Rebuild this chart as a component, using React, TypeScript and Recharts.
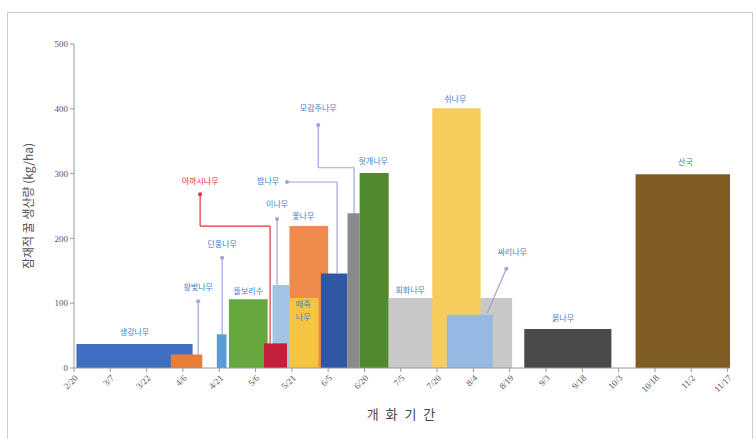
import React from 'react';
import {
  Area,
  ComposedChart,
  ReferenceDot,
  ReferenceLine,
  XAxis,
  YAxis,
} from 'recharts';

// x axis: days counted from 2/20, one tick every 15 days
const dayTicks = [0, 15, 30, 45, 60, 75, 90, 105, 120, 135, 150, 165, 180, 195, 210, 225, 240, 255, 270];
const dateLabels = ['2/20', '3/7', '3/22', '4/6', '4/21', '5/6', '5/21', '6/5', '6/20', '7/5', '7/20', '8/4', '8/19', '9/3', '9/18', '10/3', '10/18', '11/2', '11/17'];
const honeyTicks = [0, 100, 200, 300, 400, 500];

// flowering plants (draw order = back to front)
const plants = ['생강나무', '왕벚나무', '단풍나무', '뜰보리수', '이나무', '아까시나무', '옻나무', '때죽나무', '밤나무', '모감주나무', '헛개나무', '회화나무', '쉬나무', '싸리나무', '붉나무', '산국'];
const bloomStart = [1, 40, 59, 64, 82, 78.5, 89, 89, 102, 113, 118, 130, 148, 154, 186, 232];
const bloomEnd = [49, 53, 63, 80, 89, 88, 105, 101, 113, 118, 130, 181, 168, 173, 222, 271];
const honeyYield = [37, 21, 52, 106, 128, 38, 219, 108, 146, 239, 301, 108, 401, 82, 60, 299];

const plantColors = ['#3f6fc0', '#ea7d36', '#5b9bd5', '#66a83e', '#a3c4e4', '#c41f3b', '#ed8a4c', '#f5c542', '#2f57a3', '#8a8a8a', '#4f8a2e', '#c8c8c8', '#f6cd5c', '#95b9e2', '#4a4a4a', '#7f5d24'];

// each plant gives two points (start, end) at its yield level
const chartData = plants
  .flatMap((p, i) => [
    { x: bloomStart[i], [p]: honeyYield[i] },
    { x: bloomEnd[i], [p]: honeyYield[i] },
  ])
  .sort((a, b) => a.x - b.x);

// text labels in data units: [text, day, value, colour]
const BLUE = '#3d7fc8';
const RED = '#e0303a';
const labels: [string, number, number, string][] = [
  ['생강나무', 25, 54, BLUE],
  ['왕벚나무', 51.3, 123, BLUE],
  ['단풍나무', 61.2, 190, BLUE],
  ['아까시나무', 52.1, 287, RED],
  ['뜰보리수', 72, 117, BLUE],
  ['이나무', 83.9, 252, BLUE],
  ['밤나무', 80.2, 287, BLUE],
  ['옻나무', 94.7, 233, BLUE],
  ['때죽', 94.7, 97, BLUE],
  ['나무', 94.7, 78, BLUE],
  ['모감주나무', 100.9, 400, BLUE],
  ['헛개나무', 123.6, 318, BLUE],
  ['회화나무', 138.9, 119, BLUE],
  ['쉬나무', 157.5, 414, BLUE],
  ['싸리나무', 181, 177, BLUE],
  ['붉나무', 202, 76, BLUE],
  ['산국', 252.6, 316, BLUE],
];

// leader lines: [x1, y1, x2, y2, colour]
const LEAD = '#a0a2dc';
const leaders: [number, number, number, number, string][] = [
  [51.3, 103, 51.3, 20, LEAD],
  [61.2, 170, 61.2, 52, LEAD],
  [52.1, 268, 52.1, 219, RED],
  [52.1, 219, 81, 219, RED],
  [81, 219, 81, 38, RED],
  [83.9, 230, 83.9, 128, LEAD],
  [88, 287, 108.7, 287, LEAD],
  [108.7, 287, 108.7, 146, LEAD],
  [100.9, 375, 100.9, 309, LEAD],
  [100.9, 309, 115.7, 309, LEAD],
  [115.7, 309, 115.7, 239, LEAD],
  [178.6, 153, 170.7, 85, LEAD],
];
const leaderDots: [number, number, string][] = [
  [51.3, 103, LEAD],
  [61.2, 170, LEAD],
  [52.1, 268, RED],
  [83.9, 230, LEAD],
  [88, 287, LEAD],
  [100.9, 375, LEAD],
  [178.6, 153, LEAD],
];

const FONT = '"Noto Sans CJK KR", "Noto Sans", sans-serif';

export default function App() {
  return (
    <div style={{ position: 'absolute', left: 0, top: 0, width: 756, height: 439, background: '#fff', overflow: 'hidden', fontFamily: FONT }}>
      <div style={{ position: 'absolute', left: 7, top: 12, width: 744, height: 440, border: '1px solid #cfcfcf' }} />
      <ComposedChart
        width={756}
        height={439}
        data={chartData}
        margin={{ top: 44, right: 26, left: 0, bottom: 0 }}
        style={{ position: 'absolute', left: 0, top: 0 }}
      >
        <XAxis
          type="number"
          dataKey="x"
          domain={[0, 271]}
          ticks={dayTicks}
          tickFormatter={(v: number) => dateLabels[dayTicks.indexOf(v)]}
          interval={0}
          height={71}
          axisLine={{ stroke: '#9a9a9a' }}
          tickLine={{ stroke: '#9a9a9a' }}
          tickSize={4}
          angle={-45}
          textAnchor="end"
          tick={{ fontSize: 9, fill: '#555', fontFamily: '"Liberation Serif", serif' }}
          label={{ value: '개 화 기 간', position: 'insideBottom', offset: 20, fontSize: 13, fill: '#444', fontFamily: FONT, letterSpacing: 2 }}
        />
        <YAxis
          type="number"
          domain={[0, 500]}
          ticks={honeyTicks}
          width={74}
          axisLine={{ stroke: '#9a9a9a' }}
          tickLine={{ stroke: '#9a9a9a' }}
          tickSize={4}
          tick={{ fontSize: 9, fill: '#555', fontFamily: '"Liberation Serif", serif' }}
          label={{ value: '잠재적 꿀 생산량 (kg/ha)', angle: -90, position: 'center', dx: -8, fontSize: 12, fill: '#555', fontFamily: FONT }}
        />
        {plants.map((p, i) => (
          <Area
            key={p}
            type="linear"
            dataKey={p}
            connectNulls
            stroke="none"
            fill={plantColors[i]}
            fillOpacity={1}
            dot={false}
            activeDot={false}
            isAnimationActive={false}
          />
        ))}
        {leaders.map(([x1, y1, x2, y2, c], i) => (
          <ReferenceLine
            key={'l' + i}
            segment={[{ x: x1, y: y1 }, { x: x2, y: y2 }]}
            stroke={c}
            strokeWidth={1.2}
            ifOverflow="visible"
          />
        ))}
        {leaderDots.map(([x, y, c], i) => (
          <ReferenceDot key={'d' + i} x={x} y={y} r={2} fill={c} stroke="none" ifOverflow="visible" />
        ))}
        {labels.map(([t, x, y, c], i) => (
          <ReferenceDot
            key={'t' + i}
            x={x}
            y={y}
            ifOverflow="visible"
            shape={(props: any) => (
              <text
                x={props.cx}
                y={props.cy}
                textAnchor="middle"
                dominantBaseline="middle"
                fontSize={8}
                fill={c}
                fontFamily={FONT}
              >
                {t}
              </text>
            )}
          />
        ))}
      </ComposedChart>
    </div>
  );
}
